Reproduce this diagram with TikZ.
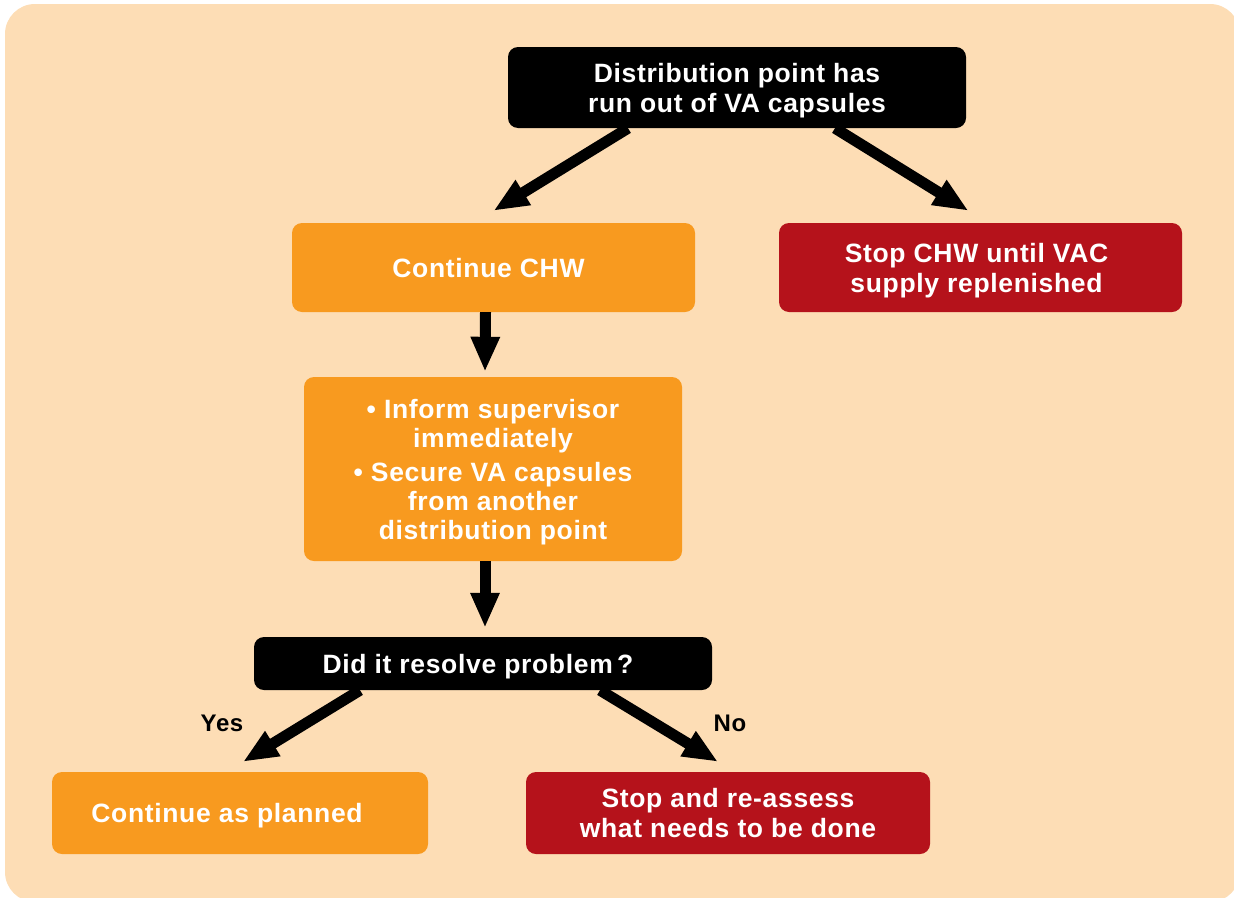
\documentclass[tikz,border=0pt]{standalone}
\usepackage{fontspec}
\setmainfont{Liberation Sans}[LetterSpace=2.5]
\usetikzlibrary{arrows.meta}
\definecolor{bgpeach}{HTML}{FDDDB5}
\definecolor{boxorange}{HTML}{F89A1F}
\definecolor{boxred}{HTML}{B5121B}
\tikzset{
  box/.style={rounded corners=10pt, inner sep=0pt, align=center, text=white,
    text depth=-3pt, font=\fontsize{26.5}{30}\selectfont\bfseries},
  blackbox/.style={box, fill=black},
  orangebox/.style={box, fill=boxorange},
  redbox/.style={box, fill=boxred},
  flowarrow/.style={line width=11pt, draw=black, -{Triangle[length=35pt,width=27pt]}},
  answer/.style={font=\fontsize{24}{28}\selectfont\bfseries, text=black}
}
\begin{document}
\begin{tikzpicture}[x=1pt,y=-1pt]
\useasboundingbox (0,0) rectangle (1234,897);
\fill[bgpeach, rounded corners=30pt] (5,4) rectangle (1240,902);

\node[blackbox, minimum width=458pt, minimum height=81pt] (top) at (737,87.5)
  {Distribution point has\\run out of VA capsules};
\node[orangebox, minimum width=403pt, minimum height=89pt] (chw) at (493.5,267.5)
  {Continue CHW\hspace*{10pt}};
\node[redbox, minimum width=403pt, minimum height=89pt] (stop) at (980.5,267.5)
  {Stop CHW until VAC\hspace*{8pt}\\supply replenished\hspace*{8pt}};
\node[orangebox, minimum width=378pt, minimum height=184pt,
  font=\fontsize{26.5}{29}\selectfont\bfseries] (inform) at (493,469)
  {\textbullet\ Inform supervisor\\immediately\\[5pt]\textbullet\ Secure VA capsules\\from another\\distribution point};
\node[blackbox, minimum width=458pt, minimum height=53pt] (did) at (483,663.5)
  {Did it resolve problem\,?\hspace*{10pt}};
\node[orangebox, minimum width=376pt, minimum height=82pt] (planned) at (240,813)
  {Continue as planned\hspace*{26pt}};
\node[redbox, minimum width=404pt, minimum height=82pt] (reassess) at (728,813)
  {Stop and re-assess\\what needs to be done};

\draw[flowarrow] ([xshift=-109pt]top.south) -- ([yshift=12pt]chw.north);
\draw[flowarrow] ([xshift=98pt]top.south) -- ([xshift=-12pt,yshift=12pt]stop.north);
\draw[flowarrow] ([xshift=-8pt]chw.south) -- ([xshift=-8pt,yshift=5pt]inform.north);
\draw[flowarrow] ([xshift=-8pt]inform.south) -- ([xshift=2pt,yshift=9pt]did.north);
\draw[flowarrow] ([xshift=-123pt]did.south) -- ([xshift=3pt,yshift=10pt]planned.north);
\draw[flowarrow] ([xshift=117pt]did.south) -- ([xshift=-10pt,yshift=10pt]reassess.north);

\node[answer] (yes) at (222,723) {Yes};
\node[answer] (no) at (730,723) {No};
\end{tikzpicture}
\end{document}
